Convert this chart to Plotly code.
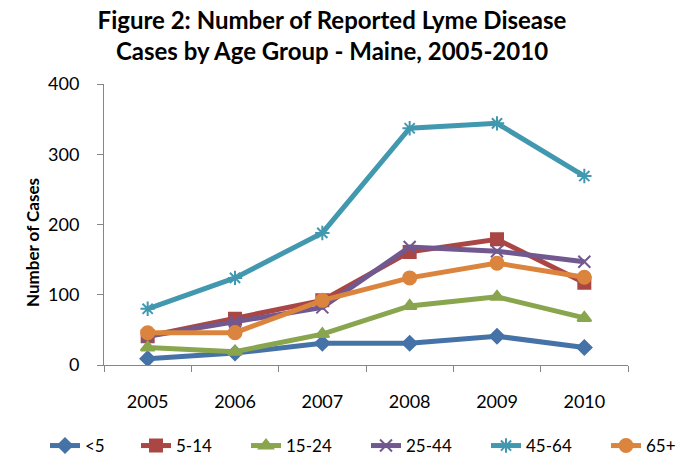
import plotly.graph_objects as go

years = [2005, 2006, 2007, 2008, 2009, 2010]
year_labels = ["2005", "2006", "2007", "2008", "2009", "2010"]
series_names = ["<5", "5-14", "15-24", "25-44", "45-64", "65+"]
under5 = [9, 17, 31, 31, 41, 25]
age5_14 = [41, 66, 92, 161, 179, 117]
age15_24 = [25, 19, 44, 84, 97, 67]
age25_44 = [41, 62, 82, 168, 162, 147]
age45_64 = [80, 124, 188, 337, 344, 269]
age65plus = [46, 46, 92, 124, 145, 125]
y_ticks = [0, 100, 200, 300, 400]

series_values = [under5, age5_14, age15_24, age25_44, age45_64, age65plus]
colors = ["#4572A7", "#AA4643", "#89A54E", "#71588F", "#4198AF", "#DB843D"]
symbols = ["diamond", "square", "triangle-up", "x-thin-open", "asterisk-open", "circle"]
msizes = [11, 12, 12, 12, 12, 13]
# legend text start positions (px) for each entry
legend_text_x = [87, 178, 288, 408, 528, 648]

W, H = 691, 457
L, R, T, B = 104, 63, 84, 92
pw = W - L - R
ph = H - T - B

font = "Lato, Open Sans, sans-serif"

fig = go.Figure()
legends = {}
for i, (name, vals, c, s, ms) in enumerate(zip(series_names, series_values, colors, symbols, msizes)):
    key = "legend" if i == 0 else f"legend{i + 1}"
    fig.add_trace(go.Scatter(
        x=years, y=vals, name=name, mode="lines+markers",
        line=dict(color=c, width=5),
        marker=dict(symbol=s, size=ms, color=c, line=dict(color=c, width=2)),
        legend=key,
    ))
    legends[key] = dict(orientation="h", x=(legend_text_x[i] - 42) / W, xref="container",
                        xanchor="left", y=1 - 446 / H, yref="container", yanchor="middle",
                        font=dict(family=font, size=17, color="black"),
                        bgcolor="rgba(0,0,0,0)", borderwidth=0)

fig.update_layout(
    width=W, height=H,
    margin=dict(l=L, r=R, t=T, b=B, autoexpand=False),
    paper_bgcolor="white", plot_bgcolor="white",
    font=dict(family=font, size=18, color="black"),
    showlegend=True,
    title=dict(text="<b>Figure 2: Number of Reported Lyme Disease<br>Cases by Age Group - Maine, 2005-2010</b>",
               x=332 / W, xref="container", xanchor="center",
               y=1 - 29 / H, yref="container", yanchor="middle",
               font=dict(family=font, size=24, color="black")),
    annotations=[dict(text="<b>Number of Cases</b>", textangle=-90,
                      x=(32 - L) / pw, y=(H - B - 243) / ph,
                      xref="paper", yref="paper", xanchor="center", yanchor="middle",
                      showarrow=False, font=dict(size=17, color="black"))],
    **legends,
)

fig.update_xaxes(
    range=[2004.5, 2010.5], tickvals=years, ticktext=year_labels,
    ticks="", showline=True, linecolor="#868686", linewidth=1,
    showgrid=False, zeroline=False, ticklabelstandoff=20,
    minor=dict(ticks="outside", tick0=2004.5, dtick=1, ticklen=6,
               tickcolor="#868686", showgrid=False),
)
fig.update_yaxes(
    range=[0, 400], tickvals=y_ticks, ticks="outside", ticklen=6,
    tickcolor="#868686", showline=True, linecolor="#868686", linewidth=1,
    showgrid=False, zeroline=False, ticklabelstandoff=14,
)

fig.write_html("out.html", config={"displayModeBar": False},
               post_script="document.body.style.margin='0';document.body.style.overflow='hidden';")
